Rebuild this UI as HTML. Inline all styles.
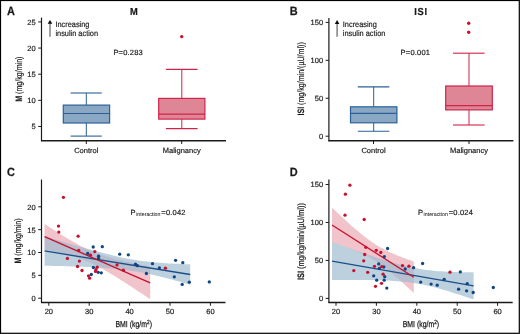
<!DOCTYPE html>
<html><head><meta charset="utf-8"><style>
html,body{margin:0;padding:0;background:#fff;}
svg{display:block;font-family:"Liberation Sans",sans-serif;text-rendering:geometricPrecision;will-change:transform;}
text{fill:#1a1a1a;stroke:#1a1a1a;stroke-width:0.18;}
</style></head><body>
<svg width="520" height="334" viewBox="0 0 520 334">
<rect width="520" height="334" fill="#fff"/>
<rect x="0.5" y="0.5" width="518.8" height="332.8" fill="none" stroke="#000" stroke-width="1.2"/>
<text transform="translate(7.00,14.50) scale(0.9200,1)" font-size="11.88" text-anchor="start" font-weight="bold" style="stroke-width:0.25">A</text>
<text transform="translate(133.80,14.60) scale(0.9200,1)" font-size="10.12" text-anchor="middle" font-weight="bold" style="stroke-width:0.2">M</text>
<line x1="41.50" y1="17.60" x2="41.50" y2="141.20" stroke="#1a1a1a" stroke-width="1.2" />
<line x1="38.20" y1="126.46" x2="41.50" y2="126.46" stroke="#1a1a1a" stroke-width="1.0" />
<text transform="translate(35.70,129.41) scale(1.0000,1)" font-size="7.50" text-anchor="end" font-weight="normal" >5</text>
<line x1="38.20" y1="100.33" x2="41.50" y2="100.33" stroke="#1a1a1a" stroke-width="1.0" />
<text transform="translate(35.70,103.28) scale(1.0000,1)" font-size="7.50" text-anchor="end" font-weight="normal" >10</text>
<line x1="38.20" y1="74.19" x2="41.50" y2="74.19" stroke="#1a1a1a" stroke-width="1.0" />
<text transform="translate(35.70,77.14) scale(1.0000,1)" font-size="7.50" text-anchor="end" font-weight="normal" >15</text>
<line x1="38.20" y1="48.06" x2="41.50" y2="48.06" stroke="#1a1a1a" stroke-width="1.0" />
<text transform="translate(35.70,51.01) scale(1.0000,1)" font-size="7.50" text-anchor="end" font-weight="normal" >20</text>
<line x1="38.20" y1="21.92" x2="41.50" y2="21.92" stroke="#1a1a1a" stroke-width="1.0" />
<text transform="translate(35.70,24.87) scale(1.0000,1)" font-size="7.50" text-anchor="end" font-weight="normal" >25</text>
<line x1="41.10" y1="140.70" x2="226.00" y2="140.70" stroke="#1a1a1a" stroke-width="1.35" />
<line x1="86.30" y1="140.70" x2="86.30" y2="144.00" stroke="#1a1a1a" stroke-width="1.0" />
<text transform="translate(86.30,152.60) scale(1.0000,1)" font-size="7.50" text-anchor="middle" font-weight="normal" >Control</text>
<line x1="181.70" y1="140.70" x2="181.70" y2="144.00" stroke="#1a1a1a" stroke-width="1.0" />
<text transform="translate(181.70,152.60) scale(1.0000,1)" font-size="7.50" text-anchor="middle" font-weight="normal" >Malignancy</text>
<text transform="translate(19.00,79.20) rotate(-90) scale(0.7667,1)" font-size="9.24" text-anchor="middle" dy="2.5" ><tspan font-weight="bold">M</tspan> (mg/kg/min)</text>
<line x1="50.00" y1="36.80" x2="50.00" y2="22.90" stroke="#8a8a8a" stroke-width="1.6" />
<path d="M47.70,23.80 L50.00,19.90 L52.30,23.80 Z" fill="#0a0a0a"/>
<text transform="translate(55.40,26.65) scale(0.9200,1)" font-size="8.03" text-anchor="start" font-weight="normal" >Increasing</text>
<text transform="translate(55.40,35.70) scale(0.9200,1)" font-size="8.03" text-anchor="start" font-weight="normal" >insulin action</text>
<text transform="translate(113.40,54.90) scale(1.0000,1)" font-size="7.50" text-anchor="start" font-weight="normal" letter-spacing="0.2">P=0.283</text>
<line x1="86.30" y1="93.00" x2="86.30" y2="105.10" stroke="#2c6198" stroke-width="1.0" />
<line x1="86.30" y1="123.00" x2="86.30" y2="136.10" stroke="#2c6198" stroke-width="1.0" />
<line x1="70.60" y1="93.00" x2="101.80" y2="93.00" stroke="#2c6198" stroke-width="1.1" />
<line x1="70.60" y1="136.10" x2="101.80" y2="136.10" stroke="#2c6198" stroke-width="1.1" />
<rect x="63.30" y="105.10" width="46.30" height="17.90" fill="#8aa7c4" stroke="#2c6198" stroke-width="1.2"/>
<line x1="63.30" y1="113.50" x2="109.60" y2="113.50" stroke="#2c6198" stroke-width="1.2" />
<line x1="181.80" y1="69.40" x2="181.80" y2="98.40" stroke="#cf2449" stroke-width="1.0" />
<line x1="181.80" y1="119.10" x2="181.80" y2="128.60" stroke="#cf2449" stroke-width="1.0" />
<line x1="165.90" y1="69.40" x2="197.60" y2="69.40" stroke="#cf2449" stroke-width="1.1" />
<line x1="165.90" y1="128.60" x2="197.60" y2="128.60" stroke="#cf2449" stroke-width="1.1" />
<rect x="158.70" y="98.40" width="46.20" height="20.70" fill="#df8696" stroke="#cf2449" stroke-width="1.2"/>
<line x1="158.70" y1="114.10" x2="204.90" y2="114.10" stroke="#cf2449" stroke-width="1.2" />
<circle cx="181.70" cy="36.60" r="1.7" fill="#c8102e"/>
<text transform="translate(289.80,14.50) scale(0.9200,1)" font-size="11.88" text-anchor="start" font-weight="bold" style="stroke-width:0.25">B</text>
<text transform="translate(421.00,14.60) scale(0.9200,1)" font-size="10.12" text-anchor="middle" font-weight="bold" letter-spacing="0.8" style="stroke-width:0.2">ISI</text>
<line x1="328.90" y1="18.00" x2="328.90" y2="141.20" stroke="#1a1a1a" stroke-width="1.2" />
<line x1="325.60" y1="136.20" x2="328.90" y2="136.20" stroke="#1a1a1a" stroke-width="1.0" />
<text transform="translate(323.10,139.15) scale(1.0000,1)" font-size="7.50" text-anchor="end" font-weight="normal" >0</text>
<line x1="325.60" y1="98.26" x2="328.90" y2="98.26" stroke="#1a1a1a" stroke-width="1.0" />
<text transform="translate(323.10,101.21) scale(1.0000,1)" font-size="7.50" text-anchor="end" font-weight="normal" >50</text>
<line x1="325.60" y1="60.33" x2="328.90" y2="60.33" stroke="#1a1a1a" stroke-width="1.0" />
<text transform="translate(323.10,63.28) scale(1.0000,1)" font-size="7.50" text-anchor="end" font-weight="normal" >100</text>
<line x1="325.60" y1="22.39" x2="328.90" y2="22.39" stroke="#1a1a1a" stroke-width="1.0" />
<text transform="translate(323.10,25.34) scale(1.0000,1)" font-size="7.50" text-anchor="end" font-weight="normal" >150</text>
<line x1="328.40" y1="140.70" x2="513.40" y2="140.70" stroke="#1a1a1a" stroke-width="1.35" />
<line x1="373.50" y1="140.70" x2="373.50" y2="144.00" stroke="#1a1a1a" stroke-width="1.0" />
<text transform="translate(373.50,152.60) scale(1.0000,1)" font-size="7.50" text-anchor="middle" font-weight="normal" >Control</text>
<line x1="469.00" y1="140.70" x2="469.00" y2="144.00" stroke="#1a1a1a" stroke-width="1.0" />
<text transform="translate(469.00,152.60) scale(1.0000,1)" font-size="7.50" text-anchor="middle" font-weight="normal" >Malignancy</text>
<text transform="translate(301.80,78.90) rotate(-90) scale(0.7667,1)" font-size="9.24" text-anchor="middle" dy="2.5" ><tspan font-weight="bold">ISI</tspan> (mg/kg/min/(µU/ml))</text>
<line x1="337.10" y1="36.80" x2="337.10" y2="23.00" stroke="#8a8a8a" stroke-width="1.6" />
<path d="M334.80,23.90 L337.10,20.00 L339.40,23.90 Z" fill="#0a0a0a"/>
<text transform="translate(342.80,26.75) scale(0.9200,1)" font-size="8.03" text-anchor="start" font-weight="normal" >Increasing</text>
<text transform="translate(342.80,35.80) scale(0.9200,1)" font-size="8.03" text-anchor="start" font-weight="normal" >insulin action</text>
<text transform="translate(400.60,55.40) scale(1.0000,1)" font-size="7.50" text-anchor="start" font-weight="normal" letter-spacing="0.2">P=0.001</text>
<line x1="373.70" y1="86.90" x2="373.70" y2="106.80" stroke="#2c6198" stroke-width="1.0" />
<line x1="373.70" y1="122.80" x2="373.70" y2="131.30" stroke="#2c6198" stroke-width="1.0" />
<line x1="357.80" y1="86.90" x2="389.30" y2="86.90" stroke="#2c6198" stroke-width="1.1" />
<line x1="357.80" y1="131.30" x2="389.30" y2="131.30" stroke="#2c6198" stroke-width="1.1" />
<rect x="350.50" y="106.80" width="46.40" height="16.00" fill="#8aa7c4" stroke="#2c6198" stroke-width="1.2"/>
<line x1="350.50" y1="113.40" x2="396.90" y2="113.40" stroke="#2c6198" stroke-width="1.2" />
<line x1="469.00" y1="53.20" x2="469.00" y2="86.00" stroke="#cf2449" stroke-width="1.0" />
<line x1="469.00" y1="109.90" x2="469.00" y2="125.00" stroke="#cf2449" stroke-width="1.0" />
<line x1="453.00" y1="53.20" x2="484.60" y2="53.20" stroke="#cf2449" stroke-width="1.1" />
<line x1="453.00" y1="125.00" x2="484.60" y2="125.00" stroke="#cf2449" stroke-width="1.1" />
<rect x="445.70" y="86.00" width="46.60" height="23.90" fill="#df8696" stroke="#cf2449" stroke-width="1.2"/>
<line x1="445.70" y1="105.70" x2="492.30" y2="105.70" stroke="#cf2449" stroke-width="1.2" />
<circle cx="468.70" cy="23.30" r="1.7" fill="#c8102e"/>
<circle cx="468.70" cy="32.30" r="1.7" fill="#c8102e"/>
<text transform="translate(7.00,176.00) scale(0.9200,1)" font-size="11.88" text-anchor="start" font-weight="bold" style="stroke-width:0.25">C</text>
<line x1="41.50" y1="179.50" x2="41.50" y2="302.80" stroke="#1a1a1a" stroke-width="1.2" />
<line x1="38.20" y1="298.20" x2="41.50" y2="298.20" stroke="#1a1a1a" stroke-width="1.0" />
<text transform="translate(35.70,301.15) scale(1.0000,1)" font-size="7.50" text-anchor="end" font-weight="normal" >0</text>
<line x1="38.20" y1="275.35" x2="41.50" y2="275.35" stroke="#1a1a1a" stroke-width="1.0" />
<text transform="translate(35.70,278.30) scale(1.0000,1)" font-size="7.50" text-anchor="end" font-weight="normal" >5</text>
<line x1="38.20" y1="252.50" x2="41.50" y2="252.50" stroke="#1a1a1a" stroke-width="1.0" />
<text transform="translate(35.70,255.45) scale(1.0000,1)" font-size="7.50" text-anchor="end" font-weight="normal" >10</text>
<line x1="38.20" y1="229.65" x2="41.50" y2="229.65" stroke="#1a1a1a" stroke-width="1.0" />
<text transform="translate(35.70,232.60) scale(1.0000,1)" font-size="7.50" text-anchor="end" font-weight="normal" >15</text>
<line x1="38.20" y1="206.80" x2="41.50" y2="206.80" stroke="#1a1a1a" stroke-width="1.0" />
<text transform="translate(35.70,209.75) scale(1.0000,1)" font-size="7.50" text-anchor="end" font-weight="normal" >20</text>
<line x1="41.00" y1="302.45" x2="225.50" y2="302.45" stroke="#1a1a1a" stroke-width="1.35" />
<line x1="48.80" y1="302.45" x2="48.80" y2="305.75" stroke="#1a1a1a" stroke-width="1.0" />
<text transform="translate(48.80,314.45) scale(1.0000,1)" font-size="7.50" text-anchor="middle" font-weight="normal" >20</text>
<line x1="89.20" y1="302.45" x2="89.20" y2="305.75" stroke="#1a1a1a" stroke-width="1.0" />
<text transform="translate(89.20,314.45) scale(1.0000,1)" font-size="7.50" text-anchor="middle" font-weight="normal" >30</text>
<line x1="129.60" y1="302.45" x2="129.60" y2="305.75" stroke="#1a1a1a" stroke-width="1.0" />
<text transform="translate(129.60,314.45) scale(1.0000,1)" font-size="7.50" text-anchor="middle" font-weight="normal" >40</text>
<line x1="170.00" y1="302.45" x2="170.00" y2="305.75" stroke="#1a1a1a" stroke-width="1.0" />
<text transform="translate(170.00,314.45) scale(1.0000,1)" font-size="7.50" text-anchor="middle" font-weight="normal" >50</text>
<line x1="210.40" y1="302.45" x2="210.40" y2="305.75" stroke="#1a1a1a" stroke-width="1.0" />
<text transform="translate(210.40,314.45) scale(1.0000,1)" font-size="7.50" text-anchor="middle" font-weight="normal" >60</text>
<text transform="translate(18.60,241.00) rotate(-90) scale(0.7667,1)" font-size="9.24" text-anchor="middle" dy="2.5" ><tspan font-weight="bold">M</tspan> (mg/kg/min)</text>
<text transform="translate(133.70,327.00) scale(0.8000,1)" font-size="8.67" text-anchor="middle" style="stroke-width:0.25">BMI (kg/m<tspan font-size="5.94" dy="-3.1">2</tspan><tspan dy="3.1">)</tspan></text>
<text transform="translate(130.60,214.60)" font-size="7.5">P<tspan font-size="5.5" dx="0.6" dy="1.7" style="stroke-width:0.05" textLength="24.2" lengthAdjust="spacingAndGlyphs">interaction</tspan><tspan dx="0.9" dy="-1.7" letter-spacing="0.2">=0.042</tspan></text>
<path d="M44.60,223.92 L46.80,225.36 L49.00,226.80 L51.20,228.23 L53.40,229.65 L55.60,231.06 L57.80,232.46 L60.00,233.85 L62.20,235.23 L64.40,236.59 L66.60,237.94 L68.80,239.27 L71.00,240.57 L73.20,241.85 L75.40,243.11 L77.60,244.33 L79.80,245.51 L82.00,246.66 L84.20,247.76 L86.40,248.82 L88.60,249.83 L90.80,250.79 L93.00,251.70 L95.20,252.56 L97.40,253.38 L99.60,254.15 L101.80,254.89 L104.00,255.59 L106.20,256.26 L108.40,256.91 L110.60,257.52 L112.80,258.12 L115.00,258.70 L117.20,259.26 L119.40,259.81 L121.60,260.34 L123.80,260.86 L126.00,261.38 L128.20,261.88 L130.40,262.38 L132.60,262.87 L134.80,263.35 L137.00,263.83 L139.20,264.31 L141.40,264.78 L143.60,265.24 L145.80,265.70 L148.00,266.16 L150.20,266.62 L150.20,299.21 L148.00,297.74 L145.80,296.28 L143.60,294.81 L141.40,293.35 L139.20,291.90 L137.00,290.44 L134.80,289.00 L132.60,287.55 L130.40,286.12 L128.20,284.69 L126.00,283.27 L123.80,281.85 L121.60,280.45 L119.40,279.06 L117.20,277.68 L115.00,276.31 L112.80,274.96 L110.60,273.63 L108.40,272.32 L106.20,271.04 L104.00,269.78 L101.80,268.56 L99.60,267.37 L97.40,266.22 L95.20,265.11 L93.00,264.05 L90.80,263.03 L88.60,262.07 L86.40,261.15 L84.20,260.28 L82.00,259.46 L79.80,258.68 L77.60,257.93 L75.40,257.23 L73.20,256.55 L71.00,255.91 L68.80,255.29 L66.60,254.69 L64.40,254.11 L62.20,253.55 L60.00,253.00 L57.80,252.46 L55.60,251.94 L53.40,251.42 L51.20,250.92 L49.00,250.42 L46.80,249.93 L44.60,249.44 Z" fill="#c8102e" fill-opacity="0.25"/>
<path d="M44.60,236.31 L47.63,237.22 L50.67,238.12 L53.70,239.03 L56.73,239.93 L59.77,240.83 L62.80,241.73 L65.83,242.62 L68.87,243.51 L71.90,244.39 L74.93,245.27 L77.97,246.15 L81.00,247.01 L84.03,247.87 L87.07,248.72 L90.10,249.57 L93.13,250.40 L96.17,251.22 L99.20,252.03 L102.23,252.83 L105.27,253.60 L108.30,254.36 L111.33,255.10 L114.37,255.82 L117.40,256.51 L120.43,257.18 L123.47,257.81 L126.50,258.41 L129.53,258.98 L132.57,259.51 L135.60,260.00 L138.63,260.46 L141.67,260.88 L144.70,261.27 L147.73,261.62 L150.77,261.95 L153.80,262.24 L156.83,262.51 L159.87,262.76 L162.90,262.98 L165.93,263.19 L168.97,263.38 L172.00,263.55 L175.03,263.71 L178.07,263.86 L181.10,264.00 L184.13,264.13 L187.17,264.25 L190.20,264.37 L190.20,284.66 L187.17,283.79 L184.13,282.94 L181.10,282.09 L178.07,281.25 L175.03,280.41 L172.00,279.60 L168.97,278.79 L165.93,278.00 L162.90,277.22 L159.87,276.47 L156.83,275.73 L153.80,275.02 L150.77,274.34 L147.73,273.68 L144.70,273.05 L141.67,272.46 L138.63,271.90 L135.60,271.38 L132.57,270.89 L129.53,270.44 L126.50,270.03 L123.47,269.65 L120.43,269.30 L117.40,268.99 L114.37,268.70 L111.33,268.43 L108.30,268.19 L105.27,267.97 L102.23,267.77 L99.20,267.58 L96.17,267.41 L93.13,267.25 L90.10,267.11 L87.07,266.97 L84.03,266.84 L81.00,266.72 L77.97,266.61 L74.93,266.50 L71.90,266.40 L68.87,266.30 L65.83,266.21 L62.80,266.12 L59.77,266.04 L56.73,265.96 L53.70,265.88 L50.67,265.80 L47.63,265.73 L44.60,265.66 Z" fill="#a1bcd0" fill-opacity="0.7"/>
<line x1="44.60" y1="250.98" x2="190.20" y2="274.51" stroke="#1a4f8b" stroke-width="1.3" />
<line x1="44.60" y1="236.68" x2="150.20" y2="282.92" stroke="#c8102e" stroke-width="1.3" />
<circle cx="93.20" cy="247.00" r="1.65" fill="#0f4682"/>
<circle cx="102.30" cy="246.70" r="1.65" fill="#0f4682"/>
<circle cx="87.70" cy="253.40" r="1.65" fill="#0f4682"/>
<circle cx="98.60" cy="256.20" r="1.65" fill="#0f4682"/>
<circle cx="98.60" cy="258.40" r="1.65" fill="#0f4682"/>
<circle cx="93.40" cy="267.50" r="1.65" fill="#0f4682"/>
<circle cx="98.20" cy="272.30" r="1.65" fill="#0f4682"/>
<circle cx="101.30" cy="272.80" r="1.65" fill="#0f4682"/>
<circle cx="91.30" cy="274.50" r="1.65" fill="#0f4682"/>
<circle cx="119.70" cy="254.20" r="1.65" fill="#0f4682"/>
<circle cx="128.30" cy="254.80" r="1.65" fill="#0f4682"/>
<circle cx="135.50" cy="264.20" r="1.65" fill="#0f4682"/>
<circle cx="137.40" cy="265.70" r="1.65" fill="#0f4682"/>
<circle cx="146.40" cy="273.50" r="1.65" fill="#0f4682"/>
<circle cx="152.50" cy="263.70" r="1.65" fill="#0f4682"/>
<circle cx="159.40" cy="267.80" r="1.65" fill="#0f4682"/>
<circle cx="175.60" cy="260.30" r="1.65" fill="#0f4682"/>
<circle cx="182.80" cy="262.70" r="1.65" fill="#0f4682"/>
<circle cx="174.30" cy="276.80" r="1.65" fill="#0f4682"/>
<circle cx="182.20" cy="284.40" r="1.65" fill="#0f4682"/>
<circle cx="189.30" cy="282.20" r="1.65" fill="#0f4682"/>
<circle cx="209.30" cy="281.90" r="1.65" fill="#0f4682"/>
<circle cx="63.40" cy="197.30" r="1.65" fill="#c8102e"/>
<circle cx="58.50" cy="226.10" r="1.65" fill="#c8102e"/>
<circle cx="58.80" cy="232.10" r="1.65" fill="#c8102e"/>
<circle cx="78.10" cy="236.20" r="1.65" fill="#c8102e"/>
<circle cx="78.70" cy="250.50" r="1.65" fill="#c8102e"/>
<circle cx="94.80" cy="251.60" r="1.65" fill="#c8102e"/>
<circle cx="90.50" cy="255.20" r="1.65" fill="#c8102e"/>
<circle cx="67.40" cy="258.40" r="1.65" fill="#c8102e"/>
<circle cx="79.40" cy="261.10" r="1.65" fill="#c8102e"/>
<circle cx="77.50" cy="266.50" r="1.65" fill="#c8102e"/>
<circle cx="82.00" cy="270.50" r="1.65" fill="#c8102e"/>
<circle cx="97.20" cy="267.20" r="1.65" fill="#c8102e"/>
<circle cx="96.00" cy="269.60" r="1.65" fill="#c8102e"/>
<circle cx="95.50" cy="271.40" r="1.65" fill="#c8102e"/>
<circle cx="88.50" cy="275.80" r="1.65" fill="#c8102e"/>
<circle cx="89.60" cy="278.20" r="1.65" fill="#c8102e"/>
<circle cx="117.00" cy="264.90" r="1.65" fill="#c8102e"/>
<circle cx="123.40" cy="270.20" r="1.65" fill="#c8102e"/>
<circle cx="165.40" cy="268.20" r="1.65" fill="#c8102e"/>
<text transform="translate(289.80,176.00) scale(0.9200,1)" font-size="11.88" text-anchor="start" font-weight="bold" style="stroke-width:0.25">D</text>
<line x1="328.90" y1="179.60" x2="328.90" y2="302.80" stroke="#1a1a1a" stroke-width="1.2" />
<line x1="325.60" y1="298.40" x2="328.90" y2="298.40" stroke="#1a1a1a" stroke-width="1.0" />
<text transform="translate(323.10,301.35) scale(1.0000,1)" font-size="7.50" text-anchor="end" font-weight="normal" >0</text>
<line x1="325.60" y1="260.43" x2="328.90" y2="260.43" stroke="#1a1a1a" stroke-width="1.0" />
<text transform="translate(323.10,263.38) scale(1.0000,1)" font-size="7.50" text-anchor="end" font-weight="normal" >50</text>
<line x1="325.60" y1="222.46" x2="328.90" y2="222.46" stroke="#1a1a1a" stroke-width="1.0" />
<text transform="translate(323.10,225.41) scale(1.0000,1)" font-size="7.50" text-anchor="end" font-weight="normal" >100</text>
<line x1="325.60" y1="184.49" x2="328.90" y2="184.49" stroke="#1a1a1a" stroke-width="1.0" />
<text transform="translate(323.10,187.44) scale(1.0000,1)" font-size="7.50" text-anchor="end" font-weight="normal" >150</text>
<line x1="328.40" y1="302.45" x2="512.70" y2="302.45" stroke="#1a1a1a" stroke-width="1.35" />
<line x1="336.00" y1="302.45" x2="336.00" y2="305.75" stroke="#1a1a1a" stroke-width="1.0" />
<text transform="translate(336.00,314.45) scale(1.0000,1)" font-size="7.50" text-anchor="middle" font-weight="normal" >20</text>
<line x1="376.40" y1="302.45" x2="376.40" y2="305.75" stroke="#1a1a1a" stroke-width="1.0" />
<text transform="translate(376.40,314.45) scale(1.0000,1)" font-size="7.50" text-anchor="middle" font-weight="normal" >30</text>
<line x1="416.80" y1="302.45" x2="416.80" y2="305.75" stroke="#1a1a1a" stroke-width="1.0" />
<text transform="translate(416.80,314.45) scale(1.0000,1)" font-size="7.50" text-anchor="middle" font-weight="normal" >40</text>
<line x1="457.20" y1="302.45" x2="457.20" y2="305.75" stroke="#1a1a1a" stroke-width="1.0" />
<text transform="translate(457.20,314.45) scale(1.0000,1)" font-size="7.50" text-anchor="middle" font-weight="normal" >50</text>
<line x1="497.60" y1="302.45" x2="497.60" y2="305.75" stroke="#1a1a1a" stroke-width="1.0" />
<text transform="translate(497.60,314.45) scale(1.0000,1)" font-size="7.50" text-anchor="middle" font-weight="normal" >60</text>
<text transform="translate(301.70,241.60) rotate(-90) scale(0.8050,1)" font-size="9.24" text-anchor="middle" dy="2.5" ><tspan font-weight="bold">ISI</tspan> (mg/kg/min/(µU/ml))</text>
<text transform="translate(420.90,327.00) scale(0.8000,1)" font-size="8.67" text-anchor="middle" style="stroke-width:0.25">BMI (kg/m<tspan font-size="5.94" dy="-3.1">2</tspan><tspan dy="3.1">)</tspan></text>
<text transform="translate(418.00,214.60)" font-size="7.5">P<tspan font-size="5.5" dx="0.6" dy="1.7" style="stroke-width:0.05" textLength="24.2" lengthAdjust="spacingAndGlyphs">interaction</tspan><tspan dx="0.9" dy="-1.7" letter-spacing="0.2">=0.024</tspan></text>
<path d="M332.00,207.67 L333.70,209.27 L335.41,210.87 L337.11,212.47 L338.82,214.05 L340.52,215.63 L342.23,217.21 L343.93,218.77 L345.63,220.33 L347.34,221.87 L349.04,223.41 L350.75,224.93 L352.45,226.44 L354.15,227.93 L355.86,229.40 L357.56,230.85 L359.27,232.29 L360.97,233.70 L362.68,235.08 L364.38,236.43 L366.08,237.75 L367.79,239.04 L369.49,240.29 L371.20,241.51 L372.90,242.68 L374.60,243.82 L376.31,244.91 L378.01,245.96 L379.72,246.97 L381.42,247.94 L383.12,248.87 L384.83,249.76 L386.53,250.62 L388.24,251.45 L389.94,252.25 L391.65,253.02 L393.35,253.77 L395.05,254.50 L396.76,255.21 L398.46,255.90 L400.17,256.57 L401.87,257.23 L403.57,257.88 L405.28,258.52 L406.98,259.14 L408.69,259.76 L410.39,260.36 L412.10,260.96 L413.80,261.55 L413.80,292.99 L412.10,291.41 L410.39,289.83 L408.69,288.25 L406.98,286.69 L405.28,285.13 L403.57,283.59 L401.87,282.06 L400.17,280.54 L398.46,279.03 L396.76,277.54 L395.05,276.07 L393.35,274.62 L391.65,273.19 L389.94,271.78 L388.24,270.40 L386.53,269.05 L384.83,267.73 L383.12,266.44 L381.42,265.19 L379.72,263.98 L378.01,262.81 L376.31,261.68 L374.60,260.59 L372.90,259.55 L371.20,258.54 L369.49,257.58 L367.79,256.65 L366.08,255.76 L364.38,254.90 L362.68,254.07 L360.97,253.27 L359.27,252.50 L357.56,251.76 L355.86,251.03 L354.15,250.32 L352.45,249.63 L350.75,248.96 L349.04,248.30 L347.34,247.66 L345.63,247.02 L343.93,246.40 L342.23,245.78 L340.52,245.18 L338.82,244.58 L337.11,243.99 L335.41,243.40 L333.70,242.82 L332.00,242.25 Z" fill="#c8102e" fill-opacity="0.25"/>
<path d="M332.00,241.97 L334.95,243.04 L337.90,244.10 L340.85,245.17 L343.80,246.23 L346.75,247.28 L349.70,248.33 L352.65,249.37 L355.60,250.41 L358.55,251.45 L361.50,252.47 L364.45,253.49 L367.40,254.50 L370.35,255.50 L373.30,256.49 L376.25,257.46 L379.20,258.42 L382.15,259.37 L385.10,260.30 L388.05,261.20 L391.00,262.09 L393.95,262.95 L396.90,263.78 L399.85,264.58 L402.80,265.35 L405.75,266.07 L408.70,266.76 L411.65,267.40 L414.60,268.00 L417.55,268.55 L420.50,269.05 L423.45,269.51 L426.40,269.92 L429.35,270.28 L432.30,270.60 L435.25,270.89 L438.20,271.14 L441.15,271.35 L444.10,271.54 L447.05,271.70 L450.00,271.83 L452.95,271.95 L455.90,272.05 L458.85,272.13 L461.80,272.20 L464.75,272.25 L467.70,272.29 L470.65,272.33 L473.60,272.35 L473.60,299.57 L470.65,298.55 L467.70,297.55 L464.75,296.55 L461.80,295.57 L458.85,294.60 L455.90,293.64 L452.95,292.70 L450.00,291.78 L447.05,290.87 L444.10,290.00 L441.15,289.14 L438.20,288.32 L435.25,287.53 L432.30,286.78 L429.35,286.06 L426.40,285.39 L423.45,284.76 L420.50,284.17 L417.55,283.64 L414.60,283.15 L411.65,282.71 L408.70,282.31 L405.75,281.96 L402.80,281.65 L399.85,281.38 L396.90,281.14 L393.95,280.93 L391.00,280.75 L388.05,280.60 L385.10,280.47 L382.15,280.36 L379.20,280.26 L376.25,280.19 L373.30,280.12 L370.35,280.07 L367.40,280.03 L364.45,280.00 L361.50,279.98 L358.55,279.97 L355.60,279.96 L352.65,279.97 L349.70,279.97 L346.75,279.98 L343.80,280.00 L340.85,280.02 L337.90,280.04 L334.95,280.07 L332.00,280.10 Z" fill="#a1bcd0" fill-opacity="0.7"/>
<line x1="332.00" y1="261.04" x2="473.60" y2="285.96" stroke="#1a4f8b" stroke-width="1.3" />
<line x1="332.00" y1="224.96" x2="413.80" y2="277.27" stroke="#c8102e" stroke-width="1.3" />
<circle cx="387.60" cy="248.50" r="1.65" fill="#0f4682"/>
<circle cx="384.30" cy="256.60" r="1.65" fill="#0f4682"/>
<circle cx="378.70" cy="263.90" r="1.65" fill="#0f4682"/>
<circle cx="383.80" cy="267.00" r="1.65" fill="#0f4682"/>
<circle cx="379.30" cy="268.40" r="1.65" fill="#0f4682"/>
<circle cx="373.70" cy="275.80" r="1.65" fill="#0f4682"/>
<circle cx="384.70" cy="276.70" r="1.65" fill="#0f4682"/>
<circle cx="376.70" cy="280.20" r="1.65" fill="#0f4682"/>
<circle cx="384.20" cy="280.20" r="1.65" fill="#0f4682"/>
<circle cx="386.80" cy="288.10" r="1.65" fill="#0f4682"/>
<circle cx="405.20" cy="269.00" r="1.65" fill="#0f4682"/>
<circle cx="413.60" cy="267.70" r="1.65" fill="#0f4682"/>
<circle cx="422.60" cy="263.50" r="1.65" fill="#0f4682"/>
<circle cx="420.70" cy="282.10" r="1.65" fill="#0f4682"/>
<circle cx="431.10" cy="284.10" r="1.65" fill="#0f4682"/>
<circle cx="437.20" cy="285.20" r="1.65" fill="#0f4682"/>
<circle cx="444.20" cy="279.30" r="1.65" fill="#0f4682"/>
<circle cx="460.30" cy="271.90" r="1.65" fill="#0f4682"/>
<circle cx="458.60" cy="289.20" r="1.65" fill="#0f4682"/>
<circle cx="466.60" cy="290.80" r="1.65" fill="#0f4682"/>
<circle cx="467.20" cy="283.70" r="1.65" fill="#0f4682"/>
<circle cx="473.20" cy="292.50" r="1.65" fill="#0f4682"/>
<circle cx="493.30" cy="287.50" r="1.65" fill="#0f4682"/>
<circle cx="349.90" cy="185.20" r="1.65" fill="#c8102e"/>
<circle cx="345.40" cy="194.20" r="1.65" fill="#c8102e"/>
<circle cx="345.00" cy="215.20" r="1.65" fill="#c8102e"/>
<circle cx="364.20" cy="219.50" r="1.65" fill="#c8102e"/>
<circle cx="365.80" cy="247.30" r="1.65" fill="#c8102e"/>
<circle cx="364.70" cy="254.50" r="1.65" fill="#c8102e"/>
<circle cx="363.70" cy="260.80" r="1.65" fill="#c8102e"/>
<circle cx="376.30" cy="250.30" r="1.65" fill="#c8102e"/>
<circle cx="380.80" cy="252.40" r="1.65" fill="#c8102e"/>
<circle cx="374.50" cy="266.30" r="1.65" fill="#c8102e"/>
<circle cx="381.70" cy="266.70" r="1.65" fill="#c8102e"/>
<circle cx="353.80" cy="270.60" r="1.65" fill="#c8102e"/>
<circle cx="367.70" cy="272.30" r="1.65" fill="#c8102e"/>
<circle cx="383.10" cy="274.20" r="1.65" fill="#c8102e"/>
<circle cx="381.50" cy="283.30" r="1.65" fill="#c8102e"/>
<circle cx="375.50" cy="286.30" r="1.65" fill="#c8102e"/>
<circle cx="402.50" cy="265.60" r="1.65" fill="#c8102e"/>
<circle cx="408.90" cy="266.20" r="1.65" fill="#c8102e"/>
<circle cx="450.00" cy="272.20" r="1.65" fill="#c8102e"/>
</svg>
</body></html>
